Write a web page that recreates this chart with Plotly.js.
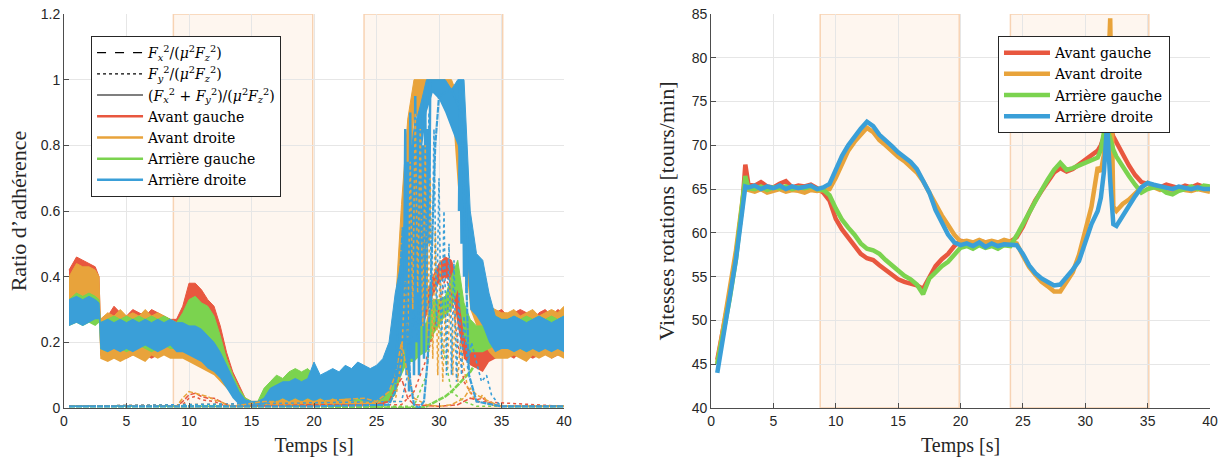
<!DOCTYPE html>
<html><head><meta charset="utf-8">
<script src="https://cdn.plot.ly/plotly-3.0.1.min.js"></script>
<style>html,body{margin:0;padding:0;background:#fff}#chart{width:1220px;height:457px}</style>
</head><body><div id="chart"></div>
<script>
// ---------- LEFT PLOT : Ratio d'adhérence ----------
const tL = [0.4,1,1.5,2,2.5,2.8,2.9,3.5,4,4.5,5,5.5,6,6.5,7,7.5,8,8.5,9,9.5,10,10.5,11,11.5,12,12.5,13,13.5,14,14.5,15,15.5,16,16.5,17,17.5,18,18.5,19,19.5,20,20.5,21,21.5,22,22.5,23,23.5,24,24.5,25,25.5,26,26.5,27,27.5,28,28.5,29,29.5,30,30.5,31,31.5,32,32.5,33,33.5,34,34.5,35,35.5,36,36.5,37,37.5,38,38.5,39,39.5,40];

const redHi = [0.42,0.46,0.45,0.44,0.43,0.40,
 0.27,0.28,0.31,0.29,0.28,0.30,0.29,0.28,0.30,0.29,0.28,0.27,
 0.27,0.31,0.38,0.38,0.36,0.33,0.31,0.25,0.17,
 0.11,0.07,0.03,0.02,0.02,0.04,
 0.07,0.06,0.05,0.06,0.05,0.05,0.04,0.05,0.04,0.05,0.04,0.05,0.04,0.05,0.04,0.05,
 0.05,0.05,0.06,0.07,0.12,0.22,0.26,0.26,0.29,0.34,0.40,0.44,0.46,0.45,0.38,0.26,0.22,0.21,0.22,0.28,0.29,0.30,
 0.28,0.29,0.30,0.29,0.27,0.29,0.30,0.28,0.30,0.29];
const redLo = [0.30,0.31,0.30,0.31,0.30,0.30,
 0.16,0.15,0.17,0.16,0.15,0.16,0.17,0.16,0.15,0.16,0.17,0.16,
 0.17,0.18,0.19,0.18,0.16,0.14,0.12,0.10,0.07,
 0.04,0.02,0.005,0.005,0.005,0.01,
 0.005,0.005,0.005,0.005,0.005,0.005,0.005,0.005,0.005,0.005,0.005,0.005,0.005,0.005,0.005,0.005,
 0.01,0.01,0.01,0.02,0.04,0.12,0.20,0.21,0.23,0.28,0.34,0.38,0.40,0.38,0.25,0.15,0.13,0.12,0.11,0.14,0.15,0.16,
 0.16,0.15,0.17,0.16,0.15,0.16,0.17,0.15,0.16,0.16];
const orangeHi = [0.40,0.44,0.43,0.43,0.42,0.40,
 0.27,0.29,0.28,0.30,0.28,0.29,0.28,0.30,0.28,0.29,0.28,0.27,
 0.26,0.28,0.30,0.31,0.30,0.27,0.24,0.20,0.15,
 0.10,0.06,0.03,0.02,0.02,0.03,
 0.05,0.04,0.05,0.04,0.05,0.04,0.05,0.04,0.05,0.04,0.05,0.04,0.05,0.04,0.05,0.05,
 0.06,0.06,0.09,0.15,0.30,0.62,0.88,1.0,1.0,1.0,1.0,1.0,1.0,1.0,0.95,0.74,0.55,0.42,0.35,0.31,0.30,0.29,
 0.29,0.30,0.28,0.29,0.30,0.28,0.29,0.30,0.29,0.31];
const orangeLo = [0.29,0.30,0.29,0.30,0.29,0.29,
 0.15,0.14,0.15,0.14,0.15,0.16,0.15,0.14,0.16,0.15,0.16,0.15,
 0.15,0.15,0.14,0.13,0.12,0.11,0.10,0.08,0.06,
 0.04,0.02,0.005,0.005,0.005,0.005,
 0.005,0.005,0.005,0.005,0.005,0.005,0.005,0.005,0.005,0.005,0.005,0.005,0.005,0.005,0.005,0.005,
 0.01,0.01,0.02,0.04,0.10,0.30,0.55,0.88,0.90,0.93,0.97,0.97,0.97,0.95,0.68,0.50,0.30,0.25,0.20,0.17,0.15,0.15,
 0.15,0.16,0.15,0.14,0.16,0.15,0.16,0.15,0.16,0.15];
const greenHi = [0.33,0.35,0.34,0.35,0.34,0.33,
 0.26,0.27,0.28,0.27,0.28,0.27,0.28,0.27,0.28,0.27,0.28,0.27,
 0.26,0.29,0.33,0.34,0.32,0.31,0.28,0.22,0.15,
 0.10,0.06,0.03,0.02,0.02,0.06,
 0.08,0.10,0.09,0.11,0.12,0.11,0.12,0.10,0.09,0.10,0.09,0.10,0.09,0.10,0.09,0.08,
 0.08,0.08,0.08,0.09,0.12,0.20,0.24,0.24,0.25,0.26,0.33,0.33,0.34,0.40,0.45,0.32,0.27,0.25,0.25,0.27,0.28,0.27,
 0.27,0.28,0.27,0.28,0.27,0.28,0.27,0.28,0.27,0.28];
const greenLo = [0.25,0.26,0.25,0.26,0.25,0.26,
 0.18,0.17,0.19,0.18,0.17,0.18,0.19,0.18,0.17,0.18,0.19,0.18,
 0.18,0.19,0.20,0.19,0.17,0.15,0.13,0.10,0.07,
 0.04,0.02,0.005,0.005,0.005,0.01,
 0.02,0.02,0.03,0.02,0.03,0.02,0.03,0.02,0.03,0.02,0.03,0.02,0.03,0.02,0.02,0.02,
 0.02,0.02,0.02,0.02,0.04,0.10,0.14,0.14,0.16,0.17,0.22,0.25,0.28,0.30,0.36,0.22,0.17,0.17,0.17,0.18,0.19,0.18,
 0.18,0.19,0.18,0.17,0.18,0.19,0.18,0.19,0.18,0.19];
const blueHi = [0.33,0.34,0.33,0.34,0.33,0.32,
 0.26,0.27,0.26,0.27,0.26,0.27,0.26,0.27,0.26,0.27,0.26,0.27,
 0.26,0.26,0.25,0.25,0.24,0.22,0.20,0.17,0.13,
 0.09,0.05,0.025,0.02,0.02,0.03,
 0.06,0.07,0.08,0.08,0.09,0.08,0.09,0.14,0.10,0.11,0.12,0.11,0.13,0.12,0.14,0.13,
 0.12,0.13,0.15,0.20,0.35,0.45,0.70,0.85,0.92,1.0,1.0,1.0,1.0,0.97,1.0,1.0,0.60,0.47,0.45,0.35,0.28,0.27,
 0.27,0.28,0.27,0.26,0.27,0.28,0.27,0.26,0.27,0.28];
const blueLo = [0.25,0.26,0.25,0.26,0.27,0.27,
 0.18,0.17,0.18,0.17,0.18,0.17,0.18,0.19,0.18,0.17,0.18,0.19,
 0.17,0.17,0.16,0.15,0.14,0.12,0.11,0.09,0.06,
 0.03,0.01,0.005,0.005,0.005,0.01,
 0.02,0.02,0.03,0.02,0.03,0.02,0.03,0.02,0.03,0.02,0.03,0.02,0.03,0.02,0.03,0.02,
 0.02,0.02,0.03,0.05,0.08,0.10,0.25,0.55,0.75,0.90,0.96,0.94,0.90,0.85,0.80,0.65,0.30,0.28,0.25,0.20,0.17,0.18,
 0.18,0.17,0.18,0.17,0.18,0.17,0.18,0.17,0.18,0.17];

// fast oscillation strokes of the rear-right combined ratio
const blueSpikeT = [27.2,27.3,27.4,27.5,27.6,27.7,27.8,27.9,28.0,28.1,28.2,28.3,28.4,28.5,28.6,28.7,28.8,28.9,29.0,29.1,29.2,29.3,null,31.6,31.7,31.8,31.9,32.0,32.1,32.2,32.3];
const blueSpikeV = [0.3,0.85,0.1,0.75,0.05,0.9,0.15,0.8,0.1,0.95,0.2,0.7,0.1,0.9,0.25,0.8,0.15,0.95,0.3,0.85,0.5,1.0,null,0.6,1.0,0.5,0.95,0.4,0.8,0.35,0.55];

// Fx (dashed) per wheel
const redFxT = [0.4,9,9.5,10,10.5,11,11.5,12,12.5,13,13.5,20,25,26,26.5,27,27.5,28,30,31.5,32,32.5,33,33.5,34,35,40];
const redFxV = [0.005,0.005,0.02,0.04,0.045,0.035,0.03,0.03,0.02,0.01,0.005,0.01,0.01,0.02,0.06,0.09,0.03,0.01,0.005,0.01,0.02,0.03,0.025,0.03,0.015,0.005,0.005];
const orangeFxT = [0.4,9,9.5,10,10.5,11,11.5,12,12.5,13,13.5,16,20,24,25,26,26.5,27,27.5,28,29,30,31,32,32.5,33,33.5,34,35,40];
const orangeFxV = [0.005,0.005,0.03,0.05,0.045,0.04,0.035,0.025,0.02,0.01,0.005,0.02,0.02,0.03,0.02,0.05,0.1,0.2,0.1,0.03,0.01,0.005,0.01,0.03,0.06,0.04,0.03,0.02,0.005,0.005];
const greenFxT = [0.4,20,28.5,29,29.5,30,30.5,31,31.5,32,32.5,33,33.5,34,34.5,35,null,35.5,40];
const greenFxV = [0.005,0.005,0.0,0.005,0.015,0.025,0.035,0.05,0.07,0.09,0.11,0.14,0.18,0.22,0.25,0.22,null,0.005,0.005];
const blueFxT = [0.4,20,26,26.5,26.8,27.1,27.4,27.7,28.0,28.4,28.8,29.1,29.4,29.7,30,31,31.8,32.1,32.4,33,35,40];
const blueFxV = [0.005,0.005,0.01,0.05,0.35,0.55,0.3,0.08,0.01,0.0,0.02,0.15,0.45,0.8,0.95,0.97,0.9,0.5,0.1,0.02,0.005,0.005];

// Fy (dotted) per wheel
const redFyT = [0.4,9.5,10,10.5,11,12,13,27,28,29,30,30.5,31,31.5,32,33,40];
const redFyV = [0.005,0.01,0.03,0.035,0.025,0.02,0.005,0.01,0.05,0.15,0.3,0.4,0.35,0.2,0.08,0.02,0.005];
const orangeFyT = [0.4,26.5,27,27.3,27.5,27.7,27.9,28.1,28.3,28.5,28.7,28.9,29.1,29.3,29.5,29.7,29.9,30.1,30.3,30.5,30.7,30.9,31.1,31.3,31.5,31.7,32,32.3,32.6,33,33.5,34,35,40];
const orangeFyV = [0.005,0.02,0.15,0.4,0.2,0.75,0.3,0.9,0.35,0.85,0.25,0.8,0.2,0.7,0.15,0.55,0.1,0.45,0.08,0.3,0.12,0.4,0.1,0.3,0.08,0.2,0.12,0.06,0.04,0.02,0.04,0.01,0.005,0.005];
const greenFyT = [0.4,28,29,29.5,30,30.5,31,32,33,40];
const greenFyV = [0.005,0.005,0.1,0.3,0.25,0.15,0.05,0.02,0.005,0.005];
const blueFyT = [0.4,27,27.5,28,28.3,28.6,28.9,29.2,29.4,29.6,29.8,30.0,30.2,30.4,30.6,30.8,31.0,31.2,31.4,31.6,31.8,32.0,32.3,32.6,33,33.4,33.8,34.2,34.6,35,40];
const blueFyV = [0.005,0.02,0.1,0.3,0.2,0.6,0.4,0.9,0.3,0.85,0.25,0.7,0.15,0.6,0.1,0.5,0.1,0.45,0.08,0.35,0.1,0.28,0.12,0.2,0.14,0.08,0.1,0.04,0.02,0.005,0.005];

// ---------- RIGHT PLOT : Vitesses rotations ----------
const tR = [0.5,1,1.5,2,2.5,2.75,3,3.5,4,4.5,5,5.5,6,6.5,7,7.5,8,8.5,9,9.5,10,10.5,11,11.5,12,12.5,13,13.5,14,14.5,15,15.5,16,16.5,17,17.5,18,18.5,19,19.5,20,20.5,21,21.5,22,22.5,23,23.5,24,24.5,25,25.5,26,26.5,27,27.5,28,28.5,29,29.5,30,30.5,31,31.25,31.5,31.75,32,32.25,32.5,33,33.5,34,34.5,35,35.5,36,36.5,37,37.5,38,38.5,39,39.5,40];
const rpmAvG = [45.5,49.0,53.0,57.5,63.0,67.8,
 65.5,65.4,65.8,65.3,65.2,65.6,65.9,65.2,65.4,65.3,65.5,65.1,64.6,
 63.7,61.6,60.4,59.5,58.6,57.6,57.1,56.9,56.3,55.8,55.3,54.7,54.4,54.2,54.0,53.6,55.0,56.2,57.0,57.6,58.5,
 59.1,59.0,58.8,59.1,58.9,59.0,58.8,59.1,59.0,
 59.5,60.7,62.3,63.7,64.8,65.9,66.9,67.4,67.0,67.3,67.8,68.3,68.9,69.4,
 70.0,71.0,72.5,72.0,71.0,70.3,
 69.0,67.7,66.6,65.8,65.6,65.4,65.2,65.5,65.3,65.1,65.4,65.2,65.5,65.3,65.0];
const rpmAvD = [45.0,49.5,53.5,58.0,63.5,65.8,
 64.9,64.7,65.0,64.6,64.8,65.0,64.7,64.9,64.8,64.6,64.9,64.8,64.9,
 65.0,66.3,68.0,69.4,70.4,71.3,72.0,71.5,70.6,70.0,69.3,68.7,68.2,67.6,66.9,65.9,64.6,63.2,62.0,60.9,59.8,
 59.0,59.1,58.9,59.2,58.9,59.1,58.9,59.2,59.0,
 58.8,57.4,56.1,55.2,54.4,53.9,53.3,53.3,54.3,55.5,57.5,60.5,63.0,67.5,
 67.0,69.0,75.0,84.5,63.0,62.5,
 63.3,63.8,64.5,65.2,65.7,65.2,64.9,65.0,64.8,65.1,64.9,64.8,65.0,64.9,64.7];
const rpmArG = [45.0,48.5,52.5,57.0,62.8,66.5,
 65.1,65.0,65.3,64.9,65.2,65.1,65.3,65.0,65.2,65.1,65.3,65.0,64.9,
 64.3,62.8,61.5,60.6,59.8,58.8,58.2,58.0,57.6,56.9,56.3,55.6,55.1,54.7,54.1,53.0,54.8,55.5,56.2,56.7,57.5,
 58.3,58.5,58.2,58.6,58.3,58.5,58.2,58.6,58.5,
 59.7,61.0,62.5,63.8,64.9,66.1,67.2,68.0,67.2,67.4,67.7,68.1,68.4,68.6,
 69.5,71.5,72.0,70.5,69.5,68.7,
 67.5,66.5,65.5,64.6,65.0,65.2,65.1,64.6,64.4,64.8,65.0,65.3,65.0,65.4,65.3];
const rpmArD = [44.0,48.5,52.5,57.0,62.5,65.3,
 65.2,65.4,65.0,65.3,65.1,65.4,65.0,65.3,65.1,65.2,65.4,65.0,65.2,
 65.6,67.3,68.8,70.0,71.0,71.9,72.7,72.2,71.2,70.6,69.9,69.2,68.7,68.1,67.3,66.0,64.6,62.6,61.2,59.8,58.9,
 58.6,58.8,58.5,58.9,58.4,58.8,58.5,58.7,58.6,
 58.6,57.6,56.3,55.4,54.8,54.4,54.0,54.1,54.9,55.8,56.8,58.8,61.0,62.5,
 64.0,67.0,72.5,66.0,61.0,60.8,
 62.0,63.2,64.2,65.2,65.7,65.5,65.3,65.1,65.0,65.3,65.1,65.0,65.2,65.0,65.0];

// manoeuvre phases (shaded)
const phaseStart = [8.75, 24.0];
const phaseEnd = [19.9, 35.1];

const wheelNames = ['Avant gauche','Avant droite','Arrière gauche','Arrière droite'];
const ratioNames = ['<i>F</i><sub><i>x</i></sub><sup>2</sup>/(<i>μ</i><sup>2</sup><i>F</i><sub><i>z</i></sub><sup>2</sup>)',
                    '<i>F</i><sub><i>y</i></sub><sup>2</sup>/(<i>μ</i><sup>2</sup><i>F</i><sub><i>z</i></sub><sup>2</sup>)',
                    '(<i>F</i><sub><i>x</i></sub><sup>2</sup> + <i>F</i><sub><i>y</i></sub><sup>2</sup>)/(<i>μ</i><sup>2</sup><i>F</i><sub><i>z</i></sub><sup>2</sup>)'];
const xTicks = [0,5,10,15,20,25,30,35,40];

// ---------- build ----------
const C = ['#e8573f','#e8a33b','#7bd34f','#3a9fd8'];
const traces = [];
function ln(t,v,col,dash,w){traces.push({x:t,y:v,mode:'lines',line:{width:w,color:col,dash:dash},showlegend:false,hoverinfo:'skip',connectgaps:false});}
function band(lo, hi, col){
  traces.push({x:tL,y:lo,mode:'lines',line:{width:0,color:col},showlegend:false,hoverinfo:'skip'});
  traces.push({x:tL,y:hi,mode:'lines',fill:'tonexty',fillcolor:col,line:{width:1,color:col},showlegend:false,hoverinfo:'skip'});
}
ln(greenFxT,greenFxV,C[2],'6px,1px',2.5);
band(redLo, redHi, C[0]);
band(orangeLo, orangeHi, C[1]);
band(greenLo, greenHi, C[2]);
band(blueLo, blueHi, C[3]);
traces.push({x:blueSpikeT,y:blueSpikeV,mode:'lines',line:{width:2.5,color:C[3]},showlegend:false,connectgaps:false,hoverinfo:'skip'});

ln(redFyT,redFyV,C[0],'dot',1.5);
ln(greenFyT,greenFyV,C[2],'dot',1.5);
ln(orangeFyT,orangeFyV,C[1],'dot',1.6);
ln(blueFyT,blueFyV,C[3],'dot',1.6);
ln(redFxT,redFxV,C[0],'5px,2px',1.5);
ln(orangeFxT,orangeFxV,C[1],'5px,2px',1.5);
ln(blueFxT,blueFxV,C[3],'6px,1px',2.2);

// legend entries (left)
const dashes = ['dash','dot','solid'];
ratioNames.forEach((n,i)=>traces.push({x:[null],y:[null],mode:'lines',name:n,line:{color:'#000',width:1.1,dash:dashes[i]},legend:'legend'}));
wheelNames.forEach((n,i)=>traces.push({x:[null],y:[null],mode:'lines',name:n,line:{color:C[i],width:2.5},legend:'legend'}));

// right plot
[rpmAvG,rpmAvD,rpmArG,rpmArD].forEach((v,i)=>traces.push({x:tR,y:v,xaxis:'x2',yaxis:'y2',mode:'lines',name:wheelNames[i],line:{color:C[i],width:4.5},legend:'legend2',hoverinfo:'skip'}));

const shapes = [];
phaseStart.forEach((s,i)=>{
  [['x','y',0,1.2],['x2','y2',40,85]].forEach(a=>shapes.push({type:'rect',xref:a[0],yref:a[1],x0:s,x1:phaseEnd[i],y0:a[2],y1:a[3],layer:'below',fillcolor:'rgba(242,150,80,0.09)',line:{color:'rgba(240,165,100,0.45)',width:1.5}}));
});

const tickFont = {family:'Liberation Sans, Arial, sans-serif',size:14,color:'#262626'};
const xTitleFont = {family:'Liberation Serif, Times New Roman, serif',size:20,color:'#262626'};
const yTitleFont = {family:'Liberation Serif, Times New Roman, serif',size:22,color:'#262626'};
const legFont = {family:'DejaVu Serif, serif',size:14,color:'#000'};
const axBase = {showgrid:true,gridcolor:'#e6e6e6',gridwidth:1,zeroline:false,showline:true,linecolor:'#4d4d4d',linewidth:1,ticks:'inside',ticklen:5,tickcolor:'#4d4d4d',tickfont:tickFont};

const layout = {
  width:1220,height:457,margin:{l:64,r:10,t:14,b:49},
  paper_bgcolor:'#ffffff',plot_bgcolor:'rgba(0,0,0,0)',
  font:tickFont,
  xaxis:Object.assign({},axBase,{domain:[0,0.4363],range:[0,40],tickvals:xTicks,title:{text:'Temps [s]',font:xTitleFont,standoff:11},anchor:'y'}),
  yaxis:Object.assign({},axBase,{domain:[0,1],range:[0,1.2],dtick:0.2,tick0:0,title:{text:'Ratio d’adhérence',font:yTitleFont,standoff:8},anchor:'x'}),
  xaxis2:Object.assign({},axBase,{domain:[0.5646,1],range:[0,40],tickvals:xTicks,title:{text:'Temps [s]',font:xTitleFont,standoff:11},anchor:'y2'}),
  yaxis2:Object.assign({},axBase,{domain:[0,1],range:[40,85],dtick:5,tick0:40,title:{text:'Vitesses rotations [tours/min]',font:yTitleFont,standoff:10},anchor:'x2'}),
  shapes:shapes,
  legend:{x:0.0236,y:0.944,xanchor:'left',yanchor:'top',bgcolor:'#ffffff',bordercolor:'#262626',borderwidth:1,font:legFont,itemwidth:46,tracegroupgap:0,traceorder:'normal'},
  legend2:{x:0.815,y:0.944,xanchor:'left',yanchor:'top',bgcolor:'#ffffff',bordercolor:'#262626',borderwidth:1,font:legFont,itemwidth:46,tracegroupgap:0,traceorder:'normal'},
  showlegend:true
};
Plotly.newPlot('chart',traces,layout,{staticPlot:true,displayModeBar:false});
</script></body></html>
